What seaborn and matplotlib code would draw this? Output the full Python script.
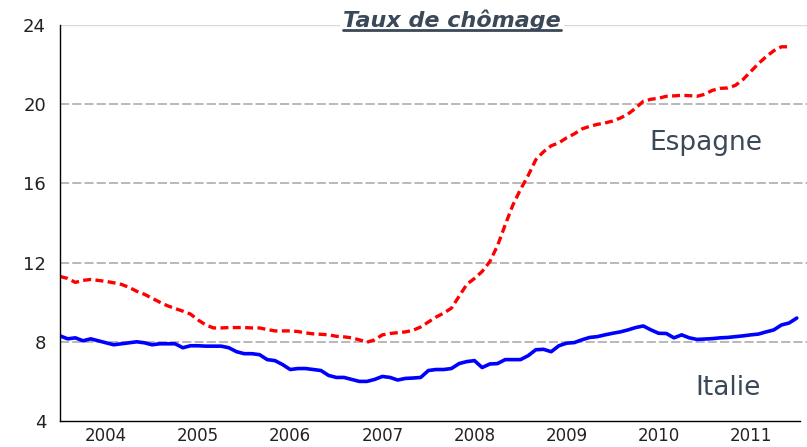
import numpy as np
import pandas as pd
import matplotlib
matplotlib.use("Agg")
import matplotlib.pyplot as plt
from matplotlib.lines import Line2D
from matplotlib.transforms import blended_transform_factory
import seaborn as sns

# --- data: monthly unemployment rates, Jan 2004 onwards ---
START_YEAR = 2004
YEARS = list(range(2004, 2012))

espagne = [11.3, 11.2, 11.0, 11.1, 11.15, 11.1, 11.05, 10.98, 10.9, 10.75, 10.55, 10.4,
           10.2, 10.0, 9.82, 9.68, 9.55, 9.4, 9.1, 8.85, 8.7, 8.7, 8.72, 8.72,
           8.72, 8.7, 8.7, 8.62, 8.55, 8.55, 8.55, 8.52, 8.45, 8.4, 8.38, 8.35,
           8.28, 8.25, 8.2, 8.1, 7.98, 8.1, 8.35, 8.42, 8.46, 8.5, 8.58, 8.75,
           9.0, 9.25, 9.45, 9.7, 10.3, 10.9, 11.2, 11.55, 12.05, 12.85, 13.9, 14.9,
           15.7, 16.4, 17.2, 17.6, 17.9, 18.05, 18.3, 18.5, 18.75, 18.88, 18.98, 19.05,
           19.15, 19.3, 19.5, 19.8, 20.15, 20.25, 20.3, 20.4, 20.42, 20.45, 20.43, 20.4,
           20.5, 20.7, 20.8, 20.82, 20.95, 21.25, 21.65, 22.05, 22.4, 22.7, 22.9, 22.9]

italie = [8.3, 8.15, 8.2, 8.05, 8.15, 8.05, 7.95, 7.85, 7.9, 7.95, 8.0, 7.95,
          7.85, 7.9, 7.9, 7.9, 7.7, 7.8, 7.8, 7.78, 7.78, 7.78, 7.7, 7.5,
          7.4, 7.4, 7.35, 7.1, 7.05, 6.85, 6.6, 6.65, 6.65, 6.6, 6.55, 6.3,
          6.2, 6.2, 6.1, 6.0, 6.0, 6.1, 6.25, 6.2, 6.07, 6.15, 6.17, 6.2,
          6.55, 6.6, 6.6, 6.65, 6.9, 7.0, 7.05, 6.7, 6.88, 6.9, 7.1, 7.1,
          7.1, 7.3, 7.6, 7.62, 7.5, 7.8, 7.93, 7.96, 8.1, 8.22, 8.26, 8.35,
          8.43, 8.5, 8.6, 8.72, 8.8, 8.6, 8.43, 8.42, 8.2, 8.35, 8.2, 8.12,
          8.14, 8.16, 8.2, 8.22, 8.26, 8.3, 8.35, 8.39, 8.5, 8.6, 8.85, 8.95, 9.2]

df_es = pd.DataFrame({"t": START_YEAR + np.arange(len(espagne)) / 12, "taux": espagne})
df_it = pd.DataFrame({"t": START_YEAR + np.arange(len(italie)) / 12, "taux": italie})

TEXT_COLOR = "#3b4858"

# --- figure ---
sns.set_style("white")
plt.rcParams["font.family"] = ["DejaVu Sans"]

fig = plt.figure(figsize=(8.07, 4.47), dpi=100)
ax = fig.add_axes([60 / 807, 26 / 447, 747 / 807, 396 / 447])

# grid lines
for yv in [8, 12, 16, 20]:
    ax.axhline(yv, color="#a6a6a6", lw=1.1, ls=(0, (6, 2)), zorder=0)
ax.axhline(24, color="#d9d9d9", lw=1.0, zorder=0)

sns.lineplot(data=df_es, x="t", y="taux", ax=ax, color="#ff0000", lw=2.4,
             linestyle=(0, (2.4, 1.3)), errorbar=None)
sns.lineplot(data=df_it, x="t", y="taux", ax=ax, color="#0000ff", lw=2.6,
             errorbar=None)

ax.set_xlim(2004, 2004 + 747 / 92.1)
ax.set_ylim(4, 24)
ax.set_xlabel("")
ax.set_ylabel("")

for s in ["top", "right"]:
    ax.spines[s].set_visible(False)
for s in ["left", "bottom"]:
    ax.spines[s].set_color("black")
    ax.spines[s].set_linewidth(1.0)
ax.spines["bottom"].set_bounds(2004, 2012.03)

ax.set_yticks([4, 8, 12, 16, 20, 24])
ax.tick_params(axis="y", direction="out", length=6, width=1, color="#333333",
               labelsize=13, labelcolor="#222222", pad=4)

ax.set_xticks(YEARS + [2012])
ax.set_xticklabels([])
ax.set_xticks(START_YEAR + np.arange(0, 97) / 12, minor=True)
ax.tick_params(axis="x", which="major", direction="out", length=8, width=1, color="#333333")
ax.tick_params(axis="x", which="minor", direction="out", length=4, width=1, color="#333333")

trans = blended_transform_factory(ax.transData, ax.transAxes)
for yr in YEARS:
    ax.text(yr + 0.5, -6 / 396, str(yr), transform=trans, ha="center", va="top",
            fontsize=12, color="#222222")

# series labels
ax.text(2011.01, 17.69, "Espagne", ha="center", va="baseline", fontsize=19,
        color=TEXT_COLOR)
ax.text(2011.25, 5.31, "Italie", ha="center", va="baseline", fontsize=19,
        color=TEXT_COLOR)

# title with underline
title = fig.text(452 / 807, 1 - 27 / 447, "Taux de chômage", ha="center", va="baseline",
                 fontsize=16, fontweight="bold", fontstyle="italic", color=TEXT_COLOR,
                 bbox=dict(facecolor="white", edgecolor="none", pad=2))
fig.canvas.draw()
bb = title.get_window_extent(fig.canvas.get_renderer())
uy = (bb.y0 + 1.0) / fig.bbox.height
fig.add_artist(Line2D([bb.x0 / fig.bbox.width, bb.x1 / fig.bbox.width], [uy, uy],
                      color=TEXT_COLOR, lw=2, zorder=10))

fig.savefig("out.png", dpi=100)
